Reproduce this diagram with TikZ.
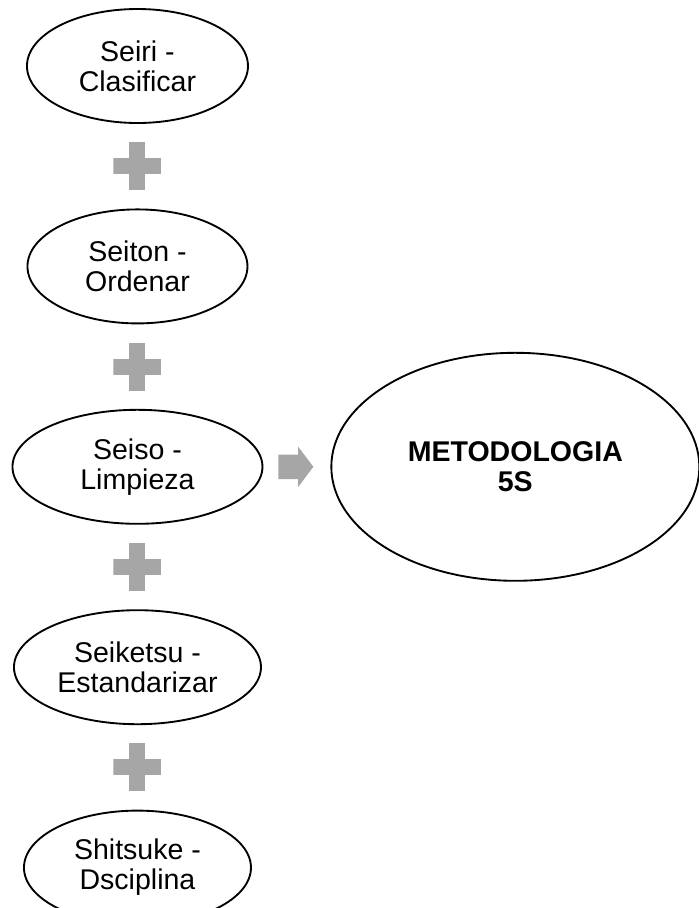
\documentclass[tikz,border=0pt]{standalone}
\usepackage{fontspec}
\setmainfont{Liberation Sans}
\usetikzlibrary{shapes.geometric, shapes.arrows, positioning, calc}
\definecolor{plusgray}{RGB}{166,166,166}

\begin{document}
\begin{tikzpicture}[
        node distance=13.5pt,
        paso/.style={ellipse, draw=black, line width=1.4pt, minimum height=85.5pt, inner sep=0pt, align=center, font=\fontsize{21.4pt}{22.5pt}\selectfont},
        mas/.style={rectangle, minimum width=36pt, minimum height=36pt, inner sep=0pt,
            path picture={\fill[plusgray] ([shift={(-18pt,-6pt)}]path picture bounding box.center) rectangle ([shift={(18pt,6pt)}]path picture bounding box.center);
                \fill[plusgray] ([shift={(-6pt,-18pt)}]path picture bounding box.center) rectangle ([shift={(6pt,18pt)}]path picture bounding box.center);}},
        flecha/.style={single arrow, fill=plusgray, draw=none, minimum height=26.25pt, inner xsep=0pt, inner ysep=9pt, single arrow head extend=6pt, single arrow tip angle=106}
    ]
        \useasboundingbox (0,0) rectangle (524.25pt,-681pt);
        \node[paso, minimum width=165.75pt] (seiri) at (103.1pt,-49.5pt) {Seiri -\\Clasificar};
        \node[mas, below=of seiri] (mas1) {};
        \node[paso, minimum width=165pt, below=of mas1] (seiton) {Seiton -\\Ordenar};
        \node[mas, below=of seiton] (mas2) {};
        \node[paso, minimum width=187.5pt, below=of mas2] (seiso) {Seiso -\\Limpieza};
        \node[mas, below=of seiso] (mas3) {};
        \node[paso, minimum width=185.25pt, below=of mas3] (seiketsu) {Seiketsu -\\Estandarizar};
        \node[mas, below=of seiketsu] (mas4) {};
        \node[paso, minimum width=170.25pt, below=of mas4] (shitsuke) {Shitsuke -\\Dsciplina};
        \node[paso, minimum width=276pt, minimum height=171pt, font=\fontsize{21.4pt}{22.5pt}\selectfont\bfseries, right=50.25pt of seiso] (metodologia) {METODOLOGIA\\5S};
        \node[flecha, anchor=tail] (flecha1) at ([xshift=11pt]seiso.east) {};
\end{tikzpicture}
\end{document}
